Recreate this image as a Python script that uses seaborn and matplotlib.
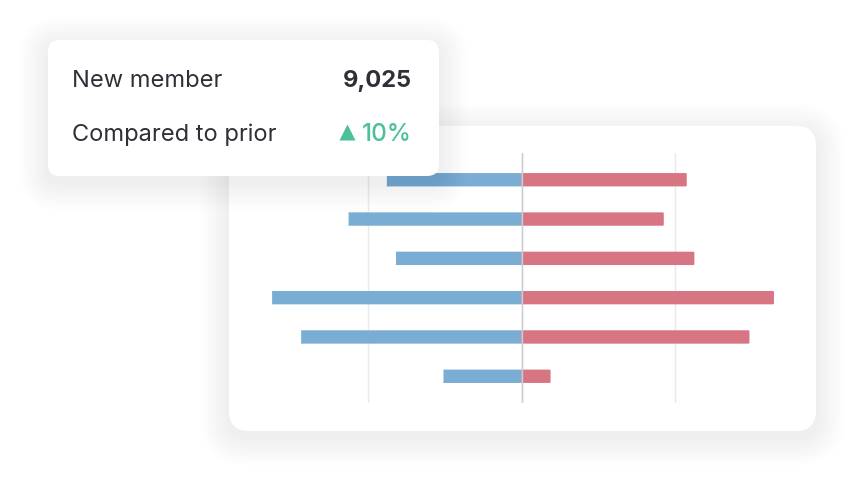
import pandas as pd
import seaborn as sns
import matplotlib.pyplot as plt
from matplotlib.patches import FancyBboxPatch

# data (gridlines at -100 / 0 / 100)
rows = ['r1', 'r2', 'r3', 'r4', 'r5', 'r6']
prior = [88, 113, 82, 163, 144, 51]
current = [108, 93, 113, 165, 149, 19]
grid_ticks = [-100, 0, 100]

headline_label = 'New member'
headline_value = '9,025'
change_label = 'Compared to prior'
change_value = '10%'

BLUE = '#7aadd3'
RED = '#d87583'
GREEN = '#4cbf9b'
TEXT = '#2f3037'

df = pd.DataFrame({
    'row': rows * 2,
    'value': [-v for v in prior] + current,
    'side': ['prior'] * len(rows) + ['current'] * len(rows),
})

sns.set_style('white')
plt.rcParams['font.family'] = ['Inter', 'DejaVu Sans']

W, H = 863, 487
fig = plt.figure(figsize=(W / 100, H / 100), dpi=100)
fig.patch.set_facecolor('white')


def pixel_axes(z):
    a = fig.add_axes([0, 0, 1, 1], zorder=z)
    a.set_xlim(0, W)
    a.set_ylim(H, 0)
    a.axis('off')
    a.patch.set_alpha(0)
    return a


def card(a, x0, y0, x1, y1, r):
    # soft shadow first, then the white card
    for i in range(16, 0, -1):
        g = i * 1.8
        a.add_patch(FancyBboxPatch((x0 - g, y0 - g + 6), x1 - x0 + 2 * g, y1 - y0 + 2 * g,
                                   boxstyle=f'round,pad=0,rounding_size={r + g}',
                                   fc='black', ec='none', alpha=0.0028))
    a.add_patch(FancyBboxPatch((x0, y0), x1 - x0, y1 - y0,
                               boxstyle=f'round,pad=0,rounding_size={r}',
                               fc='white', ec='none'))


# background card behind the chart
bg = pixel_axes(0)
card(bg, 229, 126, 816, 431, 20)

# the diverging bar chart
ax = fig.add_axes([241.5 / W, (H - 403) / H, 560 / W, 250 / H], zorder=1)
ax.patch.set_alpha(0)
sns.barplot(data=df, x='value', y='row', hue='side', orient='h', dodge=False,
            palette={'prior': BLUE, 'current': RED}, width=0.34, saturation=1,
            legend=False, ax=ax)

# give the bars slightly rounded corners
for bar in list(ax.patches):
    x, y = bar.get_xy()
    w, h = bar.get_width(), bar.get_height()
    if w == 0:
        continue
    rounded = FancyBboxPatch((x, y), w, h, boxstyle='round,pad=0,rounding_size=0.6',
                             mutation_aspect=0.05, fc=bar.get_facecolor(), ec='none')
    bar.remove()
    ax.add_patch(rounded)

ax.set_xlim(-183, 183)
ax.set_ylim(len(rows) - 0.32, -0.68)
ax.set_xticks(grid_ticks)
ax.set_yticks([])
ax.grid(axis='x', color='#e8e9ed', lw=1)
ax.set_axisbelow(True)
ax.axvline(0, color='#c9cad6', lw=1, zorder=5)
ax.tick_params(axis='x', length=0, labelbottom=False)
ax.set_xlabel('')
ax.set_ylabel('')
sns.despine(ax=ax, left=True, bottom=True)

# tooltip card on top
tip = pixel_axes(3)
card(tip, 48, 40, 439, 176, 12)
tip.text(72, 87, headline_label, fontsize=17, color=TEXT, va='baseline', ha='left')
tip.text(412, 87, headline_value, fontsize=17, color=TEXT, va='baseline', ha='right',
         fontweight='bold')
tip.text(72, 141, change_label, fontsize=17, color=TEXT, va='baseline', ha='left')
tip.text(412, 141, change_value, fontsize=17.5, color=GREEN, va='baseline', ha='right',
         fontweight='medium')
tip.plot([346.5], [132], marker='^', ms=11, color=GREEN, mec='none')

fig.savefig('out.png', dpi=100, facecolor='white')
